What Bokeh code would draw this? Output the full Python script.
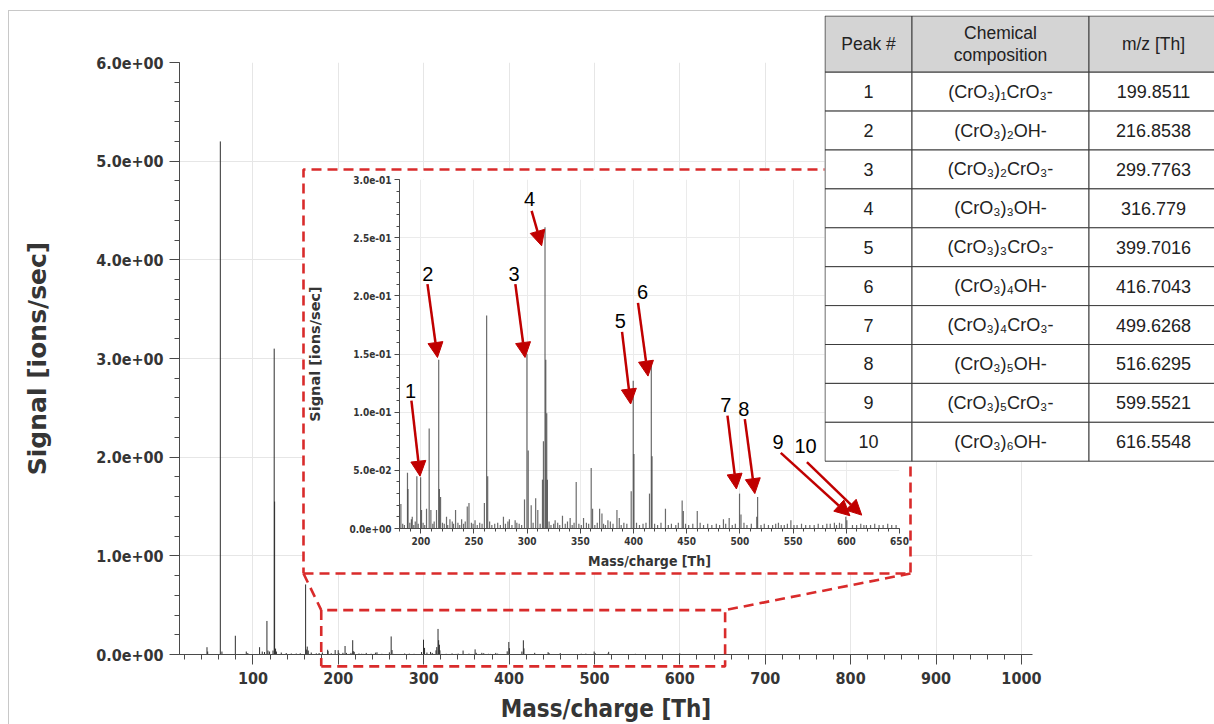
from bokeh.plotting import figure
from bokeh.models import (Range1d, FixedTicker, CustomJSTickFormatter, Arrow, NormalHead,
                          ColumnDataSource)
from bokeh.embed import file_html
from bokeh.resources import INLINE
from bokeh.core.properties import value

# ---------------- data ----------------
# peaks below the zoomed window (m/z < 180)
mz_low = [46.2, 47.0, 61.8, 63.7, 79.4, 92.2, 94.0, 107.8, 110.9, 113.6, 116.4, 117.6, 119.5,
          123.5, 124.9, 125.4, 126.5, 127.5, 133.2, 139.0, 144.9, 150.7, 155.4, 161.7, 162.5,
          163.6, 164.8, 168.3, 174.2, 177.5]
h_low = [0.074, 0.03, 5.2, 0.03, 0.19, 0.03, 0.015, 0.074, 0.03, 0.025, 0.34, 0.04, 0.03,
         0.04, 3.1, 1.55, 0.06, 0.03, 0.02, 0.015, 0.01, 0.01, 0.012, 0.71, 0.05,
         0.08, 0.04, 0.02, 0.012, 0.015]

# peaks in the zoomed window (180-650)
mz_hi = [181.3, 187.5, 188.0, 191.2, 192.0, 196.3, 199.85, 200.7, 205.4, 207.9, 209.5, 214.8,
         216.85, 217.5, 218.6, 224.2, 227.4, 232.7, 238.4, 243.7, 245.3, 251.0, 259.8, 261.9,
         262.9, 277.7, 283.3, 288.7, 297.5, 299.78, 301.0, 303.8, 308.0, 310.0, 314.4, 315.3,
         316.78, 317.5, 318.4, 319.0, 326.3, 333.2, 340.4, 346.1, 353.0, 360.2, 361.5, 368.1,
         370.3, 375.9, 384.4, 386.6, 397.8, 399.70, 400.4, 415.0, 416.70, 417.4, 430.0, 445.7,
         446.8, 459.9, 484.5, 489.9, 499.63, 501.0, 515.8, 516.63, 536.2, 547.9, 588.8, 593.6,
         599.55, 600.5, 616.55]
h_hi = [0.021, 0.048, 0.034, 0.008, 0.010, 0.045, 0.044, 0.016, 0.017, 0.086, 0.016, 0.016,
        0.145, 0.034, 0.027, 0.010, 0.008, 0.016, 0.008, 0.019, 0.022, 0.007, 0.022, 0.183,
        0.045, 0.010, 0.008, 0.007, 0.025, 0.150, 0.067, 0.020, 0.026, 0.016, 0.042, 0.075,
        0.259, 0.145, 0.099, 0.042, 0.007, 0.011, 0.009, 0.040, 0.009, 0.052, 0.017, 0.017,
        0.013, 0.007, 0.016, 0.009, 0.032, 0.127, 0.064, 0.030, 0.144, 0.062, 0.017, 0.024,
        0.015, 0.015, 0.008, 0.009, 0.030, 0.012, 0.010, 0.027, 0.005, 0.007, 0.005, 0.005,
        0.010, 0.007, 0.003]

# small baseline signals
noise_mz = [183.0, 184.6, 189.7, 193.4, 194.8, 197.6, 202.2, 203.7, 211.3, 212.6,
            220.4, 222.1, 225.3, 229.6, 230.8, 234.9, 236.6, 240.2, 241.8, 247.6,
            249.2, 253.1, 255.4, 257.6, 264.7, 266.8, 269.5, 272.3, 274.8, 279.6,
            281.9, 285.7, 290.3, 292.5, 294.8, 305.6, 312.2, 320.6, 322.4, 324.9,
            328.7, 330.6, 335.8, 337.9, 342.3, 344.1, 348.6, 350.9, 355.7, 357.8,
            363.6, 365.9, 371.8, 373.6, 378.2, 380.7, 388.4, 390.9, 393.7, 402.8,
            405.6, 408.9, 411.7, 419.8, 422.6, 425.8, 432.7, 435.6, 439.7, 442.1,
            448.9, 451.8, 455.7, 462.6, 465.8, 469.7, 473.6, 477.8, 480.9, 486.6,
            492.8, 495.7, 503.8, 506.6, 510.7, 519.8, 522.9, 526.8, 530.7, 533.6,
            538.8, 541.7, 544.6, 550.8, 553.7, 557.9, 561.8, 565.7, 569.8, 573.6,
            577.8, 581.7, 584.9, 590.8, 595.7, 605.8, 609.7, 613.6, 618.9, 622.8,
            626.7, 630.8, 634.6, 638.9, 642.7, 646.8]
noise_h = [0.004, 0.003, 0.005, 0.003, 0.006, 0.004, 0.005, 0.003, 0.004, 0.006,
           0.005, 0.004, 0.003, 0.006, 0.004, 0.005, 0.003, 0.004, 0.006, 0.005,
           0.004, 0.003, 0.005, 0.004, 0.006, 0.003, 0.004, 0.005, 0.003, 0.004,
           0.006, 0.003, 0.005, 0.004, 0.003, 0.005, 0.004, 0.006, 0.003, 0.004,
           0.005, 0.003, 0.004, 0.006, 0.003, 0.005, 0.004, 0.003, 0.005, 0.004,
           0.003, 0.005, 0.004, 0.003, 0.006, 0.004, 0.003, 0.005, 0.004, 0.005,
           0.003, 0.004, 0.005, 0.004, 0.003, 0.005, 0.003, 0.004, 0.003, 0.005,
           0.004, 0.003, 0.004, 0.005, 0.003, 0.004, 0.003, 0.004, 0.003, 0.004,
           0.003, 0.004, 0.005, 0.003, 0.004, 0.003, 0.004, 0.003, 0.003, 0.004,
           0.003, 0.003, 0.004, 0.003, 0.003, 0.004, 0.003, 0.003, 0.003, 0.004,
           0.003, 0.004, 0.004, 0.003, 0.004, 0.003, 0.003, 0.004, 0.003, 0.003,
           0.004, 0.003, 0.003, 0.004, 0.003, 0.003]

# annotated peaks (inset coordinates)
peak_labels = ["1", "2", "3", "4", "5", "6", "7", "8", "9", "10"]
arrow_x0 = [191.2, 206.3, 288.9, 304.2, 389.2, 404.2, 488.3, 504.6, 538.4, 563.0]
arrow_y0 = [0.110, 0.210, 0.210, 0.273, 0.169, 0.194, 0.097, 0.094, 0.065, 0.057]
arrow_x1 = [199.3, 215.7, 298.0, 313.6, 397.3, 413.6, 496.7, 514.0, 603.4, 614.5]
arrow_y1 = [0.045, 0.147, 0.147, 0.243, 0.107, 0.131, 0.034, 0.030, 0.011, 0.0115]
label_x = [190.5, 206.6, 287.6, 302.3, 387.5, 408.4, 486.7, 503.7, 535.9, 561.7]
label_y = [0.118, 0.219, 0.219, 0.283, 0.178, 0.203, 0.106, 0.103, 0.074, 0.0706]

# table
table_header = ["Peak #", "Chemical\ncomposition", "m/z [Th]"]
peak_numbers = ["1", "2", "3", "4", "5", "6", "7", "8", "9", "10"]
formulas = ["(CrO₃)₁CrO₃-", "(CrO₃)₂OH-", "(CrO₃)₂CrO₃-", "(CrO₃)₃OH-", "(CrO₃)₃CrO₃-",
            "(CrO₃)₄OH-", "(CrO₃)₄CrO₃-", "(CrO₃)₅OH-", "(CrO₃)₅CrO₃-", "(CrO₃)₆OH-"]
mz_values = ["199.8511", "216.8538", "299.7763", "316.779", "399.7016",
             "416.7043", "499.6268", "516.6295", "599.5521", "616.5548"]

# ticks
main_x_ticks = [100, 200, 300, 400, 500, 600, 700, 800, 900, 1000]
main_x_minor = list(range(20, 1001, 20))
main_y_ticks = [0, 1, 2, 3, 4, 5, 6]
main_y_minor = [i * 0.2 for i in range(31)]
ins_x_ticks = [200, 250, 300, 350, 400, 450, 500, 550, 600, 650]
ins_x_minor = list(range(180, 651, 10))
ins_y_ticks = [0.0, 0.05, 0.1, 0.15, 0.2, 0.25, 0.3]
ins_y_minor = [i * 0.01 for i in range(31)]

# zoom window marked on the main spectrum
zoom_x = [180, 653]
zoom_y = [-0.12, 0.45]

# ---------------- styling ----------------
RED = "#d92b2b"
ARROW_RED = "#c00000"
DASH = "10 6"
AX = "#4a4a4a"
TXT = "#353535"
FONT = "DejaVu Sans"
FONT_C = "'DejaVu Sans Condensed', 'DejaVu Sans'"

FMT = """
const s = tick.toExponential(1);
const parts = s.split('e');
const ex = parts[1];
let d = ex.slice(1);
if (d.length < 2) d = '0' + d;
return parts[0] + 'e' + ex[0] + d;
"""

all_mz = mz_low + mz_hi + noise_mz
all_h = h_low + h_hi + noise_h
src_main = ColumnDataSource(dict(mz=all_mz, h=all_h))
src_ins = ColumnDataSource(dict(mz=mz_hi + noise_mz, h=h_hi + noise_h))

# ---------------- main figure ----------------
PX, PY = 9, 11                       # page offset of the main figure
ML, MT, FW, FH = 170, 51, 853, 592   # frame geometry inside the figure
PW, PH = 1214 - PX, 724 - PY
X0, X1, Y0, Y1 = 14, 1013, 0, 6
main = figure(frame_width=FW, frame_height=FH, x_range=Range1d(X0, X1), y_range=Range1d(Y0, Y1),
              min_border_left=ML, min_border_top=MT, min_border_right=PW - ML - FW,
              min_border_bottom=PH - MT - FH, output_backend="svg", toolbar_location=None,
              x_axis_label="Mass/charge [Th]", y_axis_label="Signal [ions/sec]")
main.outline_line_color = None
main.border_fill_color = "white"
main.background_fill_color = "white"

for ax in (main.xaxis[0], main.yaxis[0]):
    ax.axis_line_color = AX
    ax.major_tick_line_color = AX
    ax.minor_tick_line_color = AX
    ax.major_tick_out = 10
    ax.major_tick_in = 0
    ax.minor_tick_out = 5
    ax.minor_tick_in = 0
    ax.major_label_text_font = FONT_C
    ax.major_label_text_font_style = "bold"
    ax.major_label_text_font_size = "16px"
    ax.major_label_text_color = TXT
    ax.axis_label_text_font_style = "bold"
    ax.axis_label_text_color = TXT

main.xaxis[0].ticker = FixedTicker(ticks=main_x_ticks, minor_ticks=main_x_minor)
main.yaxis[0].ticker = FixedTicker(ticks=main_y_ticks, minor_ticks=main_y_minor)
main.yaxis[0].formatter = CustomJSTickFormatter(code=FMT)
main.xaxis[0].major_label_standoff = 7
main.yaxis[0].major_label_standoff = 6
main.xaxis[0].axis_label_text_font = FONT_C
main.yaxis[0].axis_label_text_font = FONT
main.xaxis[0].axis_label_text_font_size = "24px"
main.yaxis[0].axis_label_text_font_size = "25px"
main.xaxis[0].axis_label_standoff = 8
main.yaxis[0].axis_label_standoff = 41
main.xgrid.ticker = FixedTicker(ticks=main_x_ticks)
main.ygrid.ticker = FixedTicker(ticks=main_y_ticks)
main.grid.grid_line_color = "#e6e6e6"

main.segment(x0="mz", y0=0, x1="mz", y1="h", source=src_main, line_color="#2e2e2e", line_width=1)

# ---------------- overlay (same data mapping as main, frame extended downwards) ----------------
ov_y0 = Y0 - (PH - MT - FH) / FH * (Y1 - Y0)
ov = figure(frame_width=FW, frame_height=PH - MT, x_range=Range1d(X0, X1), y_range=Range1d(ov_y0, Y1),
            min_border_left=ML, min_border_top=MT, min_border_right=PW - ML - FW, min_border_bottom=0,
            x_axis_location=None, y_axis_location=None, output_backend="svg", toolbar_location=None)
ov.grid.visible = False
ov.outline_line_color = None
ov.background_fill_color = None
ov.border_fill_color = None

# inset placement (pixels on the page)
IN_L, IN_T, IN_R, IN_B = 303, 169, 910, 573


def px2x(px):
    return X0 + (px - PX - ML) / FW * (X1 - X0)


def px2y(py):
    return Y1 - (py - PY - MT) / FH * (Y1 - Y0)


bx0, bx1, by0, by1 = px2x(IN_L), px2x(IN_R), px2y(IN_B), px2y(IN_T)
ov.multi_line(
    xs=[[bx0, bx1, bx1, bx0, bx0],
        [zoom_x[0], zoom_x[1], zoom_x[1], zoom_x[0], zoom_x[0]],
        [bx0, zoom_x[0]], [bx1, zoom_x[1]]],
    ys=[[by0, by0, by1, by1, by0],
        [zoom_y[0], zoom_y[0], zoom_y[1], zoom_y[1], zoom_y[0]],
        [by0, zoom_y[1]], [by0, zoom_y[1]]],
    line_color=RED, line_width=2.6, line_dash=DASH)

# ---------------- inset figure ----------------
I_FL, I_FT, I_FW, I_FH = 96, 10, 500, 349
ins = figure(frame_width=I_FW, frame_height=I_FH, x_range=Range1d(180, 650), y_range=Range1d(0, 0.3),
             min_border_left=I_FL, min_border_top=I_FT, min_border_right=IN_R - IN_L - I_FL - I_FW,
             min_border_bottom=IN_B - IN_T - I_FT - I_FH,
             output_backend="svg", toolbar_location=None,
             x_axis_label="Mass/charge [Th]", y_axis_label="Signal [ions/sec]")
ins.outline_line_color = None
ins.border_fill_color = "white"
ins.background_fill_color = "white"
for ax in (ins.xaxis[0], ins.yaxis[0]):
    ax.axis_line_color = AX
    ax.major_tick_line_color = AX
    ax.minor_tick_line_color = AX
    ax.major_tick_out = 5
    ax.major_tick_in = 0
    ax.minor_tick_out = 3
    ax.minor_tick_in = 0
    ax.major_label_text_font = FONT_C
    ax.major_label_text_font_style = "bold"
    ax.major_label_text_font_size = "10px"
    ax.major_label_text_color = TXT
    ax.major_label_standoff = 3
    ax.axis_label_text_font_style = "bold"
    ax.axis_label_text_color = TXT
ins.xaxis[0].axis_label_text_font = FONT_C
ins.xaxis[0].axis_label_text_font_size = "14px"
ins.yaxis[0].axis_label_text_font = FONT
ins.yaxis[0].axis_label_text_font_size = "14.5px"
ins.xaxis[0].ticker = FixedTicker(ticks=ins_x_ticks, minor_ticks=ins_x_minor)
ins.yaxis[0].ticker = FixedTicker(ticks=ins_y_ticks, minor_ticks=ins_y_minor)
ins.yaxis[0].formatter = CustomJSTickFormatter(code=FMT)
ins.xaxis[0].axis_label_standoff = 5
ins.yaxis[0].axis_label_standoff = 23
ins.xgrid.ticker = FixedTicker(ticks=ins_x_ticks)
ins.ygrid.ticker = FixedTicker(ticks=ins_y_ticks)
ins.grid.grid_line_color = "#ebebeb"

ins.segment(x0="mz", y0=0, x1="mz", y1="h", source=src_ins, line_color="#3a3a3a",
            line_alpha=0.75, line_width=1.2)

arrow_src = ColumnDataSource(dict(x0=arrow_x0, y0=arrow_y0, x1=arrow_x1, y1=arrow_y1))
ins.add_layout(Arrow(end=NormalHead(size=15, fill_color=ARROW_RED, line_color=ARROW_RED),
                     x_start="x0", y_start="y0", x_end="x1", y_end="y1", source=arrow_src,
                     line_color=ARROW_RED, line_width=2.5))
lab_src = ColumnDataSource(dict(x=label_x, y=label_y, t=peak_labels))
ins.text(x="x", y="y", text="t", source=lab_src, text_font=value("Liberation Sans"),
         text_font_size="20px", text_align="center", text_baseline="middle", text_color="black")

# ---------------- table figure ----------------
TW, TH = 390, 447
col_edges = [0.5, 87.5, 264.5, 400]
row_edges = [0.5, 56.7, 95.6, 134.5, 173.4, 212.3, 251.2, 290.1, 329.0, 367.9, 406.8, 445.7]
tb = figure(width=TW, height=TH, x_range=Range1d(0, TW), y_range=Range1d(TH, 0),
            x_axis_location=None, y_axis_location=None, min_border=0,
            output_backend="svg", toolbar_location=None)
tb.grid.visible = False
tb.outline_line_color = None
tb.background_fill_color = "white"
tb.border_fill_color = None

ql, qr, qt, qb, qc = [], [], [], [], []
for r in range(len(row_edges) - 1):
    for c in range(len(col_edges) - 1):
        ql.append(col_edges[c]); qr.append(col_edges[c + 1])
        qt.append(row_edges[r]); qb.append(row_edges[r + 1])
        qc.append("#d4d4d4" if r == 0 else "white")
tb.quad(left=ql, right=qr, top=qt, bottom=qb, fill_color=qc, line_color="#3c3c3c", line_width=1)

col_centers = [(col_edges[0] + col_edges[1]) / 2, (col_edges[1] + col_edges[2]) / 2, 329]
hx, hy, ht = [], [], []
hx += [col_centers[0], col_centers[2]]
hy += [28.5, 28.5]
ht += [table_header[0], table_header[2]]
for k, part in enumerate(table_header[1].split("\n")):
    hx.append(col_centers[1]); hy.append(17.5 + 21.5 * k); ht.append(part)
tb.text(x=hx, y=hy, text=ht, text_font=value("Liberation Sans"), text_font_size="17.5px",
        text_align="center", text_baseline="middle", text_color="#222222")

rx, ry, rt = [], [], []
for i in range(len(peak_numbers)):
    yc = (row_edges[i + 1] + row_edges[i + 2]) / 2
    rx += col_centers
    ry += [yc, yc, yc]
    rt += [peak_numbers[i], formulas[i], mz_values[i]]
tb.text(x=rx, y=ry, text=rt, text_font=value("Liberation Sans"), text_font_size="18px",
        text_align="center", text_baseline="middle", text_color="#222222")

# ---------------- page composition (independent roots, absolutely placed) ----------------
main.styles = {"position": "absolute", "left": f"{PX}px", "top": f"{PY}px",
               "outline": "1px solid #c8c8c8"}
ins.styles = {"position": "absolute", "left": f"{IN_L}px", "top": f"{IN_T}px"}
ov.styles = {"position": "absolute", "left": f"{PX}px", "top": f"{PY}px"}
tb.styles = {"position": "absolute", "left": "824px", "top": "15px"}

open("out.html", "w").write(file_html([main, ins, ov, tb], INLINE))
